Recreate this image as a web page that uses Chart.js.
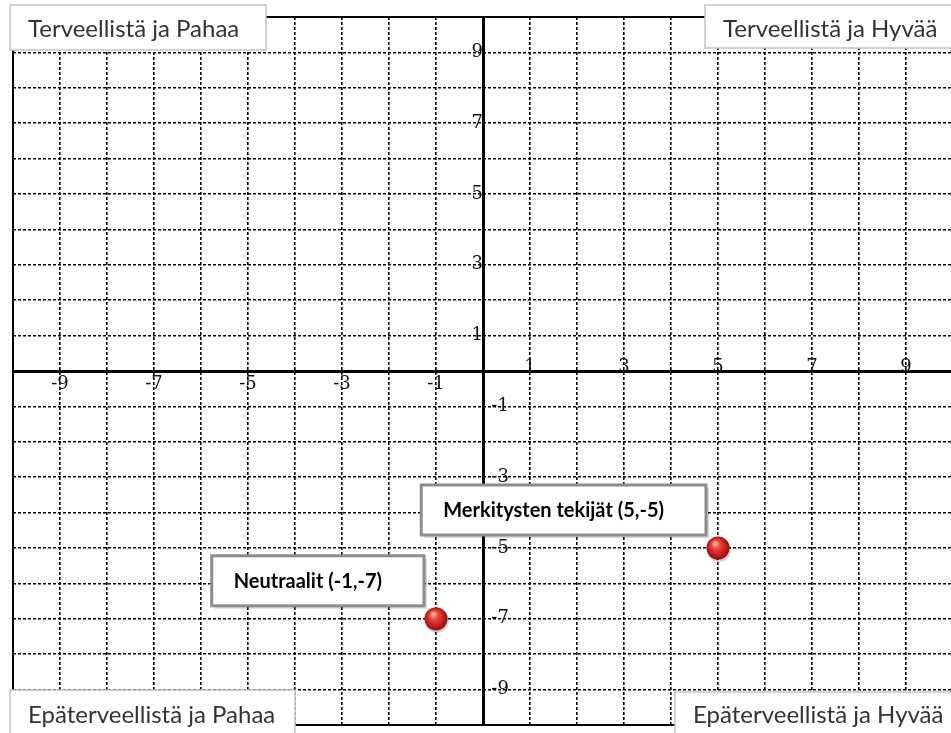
<!DOCTYPE html>
<html lang="fi">
<head>
<meta charset="UTF-8">
<title>Terveellistä ja Hyvää</title>
<script src="https://cdn.jsdelivr.net/npm/chart.js"></script>
<style>
    html, body { margin: 0; padding: 0; overflow: hidden; background: #fff; }
    .kehys { position: relative; width: 966px; height: 740px; }
</style>
</head>
<body>
<div class="kehys"><canvas id="kaavio"></canvas></div>
<script>
    // Data
    const nimet = ["Merkitysten tekijät", "Neutraalit"];
    const xArvot = [5, -1];
    const yArvot = [-5, -7];
    const tikit = [-9, -7, -5, -3, -1, 1, 3, 5, 7, 9];
    const neljannekset = ["Terveellistä ja Pahaa", "Terveellistä ja Hyvää", "Epäterveellistä ja Pahaa", "Epäterveellistä ja Hyvää"];
    const akseliMin = -10;
    const akseliMax = 10;

    // kulmalaatikot: x, y, leveys, korkeus, tekstin keskikohta y
    const kulmat = [
        [10, 5, 256, 45, 29],
        [705, 5, 265, 43, 29],
        [10, 690, 285, 60, 715],
        [675, 692, 295, 60, 715]
    ];

    const tikkiFontti = { family: "'DejaVu Serif', serif", size: 18 };

    function teePallo() {
        const c = document.createElement('canvas');
        c.width = 32; c.height = 32;
        const g = c.getContext('2d');
        g.fillStyle = 'rgba(0,0,0,0.18)';
        g.beginPath(); g.arc(17, 18, 12, 0, Math.PI * 2); g.fill();
        const grad = g.createRadialGradient(13, 11, 1, 16, 16, 12);
        grad.addColorStop(0, '#ffb4a8');
        grad.addColorStop(0.3, '#e8483a');
        grad.addColorStop(0.75, '#c01818');
        grad.addColorStop(1, '#801010');
        g.fillStyle = grad;
        g.beginPath(); g.arc(16, 16, 11.5, 0, Math.PI * 2); g.fill();
        return c;
    }

    const ruudukko = {
        color: ctx => (ctx.tick && (ctx.tick.value === 0 || Math.abs(ctx.tick.value) === 10)) ? 'rgba(0,0,0,0)' : '#000',
        lineWidth: 1.6,
        drawTicks: false
    };

    const kehysPlugin = {
        id: 'kehys',
        beforeDatasetsDraw(chart) {
            const { ctx, chartArea: a } = chart;
            ctx.save();
            ctx.strokeStyle = '#000';
            ctx.lineWidth = 2;
            ctx.strokeRect(a.left, a.top, a.right - a.left, a.bottom - a.top);
            ctx.restore();
        }
    };

    const kyltit = {
        id: 'kyltit',
        afterDatasetsDraw(chart) {
            const { ctx } = chart;
            const meta = chart.getDatasetMeta(0);
            ctx.save();
            ctx.font = "bold 20px Lato";
            meta.data.forEach((p, i) => {
                const teksti = `${nimet[i]} (${xArvot[i]},${yArvot[i]})`;
                const w = ctx.measureText(teksti).width + 64;
                const h = 50;
                const vasen = p.x - 12 - w;
                const yla = p.y - 13 - h;
                ctx.fillStyle = 'rgba(0,0,0,0.15)';
                ctx.fillRect(vasen + 3, yla + 3, w, h);
                ctx.fillStyle = '#fff';
                ctx.fillRect(vasen, yla, w, h);
                ctx.lineWidth = 3;
                ctx.strokeStyle = '#8c8c8c';
                ctx.strokeRect(vasen, yla, w, h);
                ctx.fillStyle = '#000';
                ctx.textBaseline = 'middle';
                ctx.fillText(teksti, vasen + 22, yla + h / 2 + 1);
            });

            // neljännesten otsikot
            ctx.font = "24px Lato";
            kulmat.forEach((k, i) => {
                ctx.fillStyle = '#fff';
                ctx.fillRect(k[0], k[1], k[2], k[3]);
                ctx.lineWidth = 1.5;
                ctx.strokeStyle = '#c4c4c4';
                ctx.strokeRect(k[0], k[1], k[2], k[3]);
                ctx.fillStyle = '#333';
                ctx.textBaseline = 'middle';
                ctx.fillText(neljannekset[i], k[0] + 18, k[4]);
            });
            ctx.restore();
        }
    };

    new Chart(document.getElementById('kaavio'), {
        type: 'scatter',
        data: {
            datasets: [{
                data: xArvot.map((x, i) => ({ x: x, y: yArvot[i] })),
                xAxisID: 'x',
                yAxisID: 'y',
                pointStyle: teePallo(),
                pointRadius: 12,
                pointHoverRadius: 12
            }]
        },
        options: {
            responsive: true,
            maintainAspectRatio: false,
            animation: false,
            layout: { padding: { left: 10, right: 8, top: 17, bottom: 15 } },
            plugins: {
                legend: { display: false },
                tooltip: { enabled: false }
            },
            scales: {
                x: {
                    type: 'linear', min: akseliMin, max: akseliMax,
                    position: { y: 0 },
                    ticks: {
                        stepSize: 1, autoSkip: false, maxRotation: 0, padding: 3,
                        font: tikkiFontti, color: '#111',
                        callback: v => (v < 0 && tikit.includes(v)) ? String(v) : ''
                    },
                    grid: ruudukko,
                    border: { display: true, color: '#000', width: 3, dash: [3, 2] }
                },
                xPlus: {
                    type: 'linear', axis: 'x', min: akseliMin, max: akseliMax,
                    position: { y: 0 },
                    ticks: {
                        stepSize: 1, autoSkip: false, maxRotation: 0, padding: -22,
                        font: tikkiFontti, color: '#111',
                        callback: v => (v > 0 && tikit.includes(v)) ? String(v) : ''
                    },
                    grid: { display: false },
                    border: { display: false }
                },
                y: {
                    type: 'linear', min: akseliMin, max: akseliMax,
                    position: { x: 0 },
                    ticks: {
                        stepSize: 1, autoSkip: false,
                        font: tikkiFontti, color: '#111',
                        callback: v => (v > 0 && tikit.includes(v)) ? String(v) : ''
                    },
                    grid: ruudukko,
                    border: { display: true, color: '#000', width: 3, dash: [3, 2] }
                },
                yMiinus: {
                    type: 'linear', axis: 'y', min: akseliMin, max: akseliMax,
                    position: { x: 0.55 },
                    ticks: {
                        stepSize: 1, autoSkip: false,
                        font: tikkiFontti, color: '#111',
                        callback: v => (v < 0 && tikit.includes(v)) ? String(v) : ''
                    },
                    grid: { display: false },
                    border: { display: false }
                }
            }
        },
        plugins: [kehysPlugin, kyltit]
    });
</script>
</body>
</html>
